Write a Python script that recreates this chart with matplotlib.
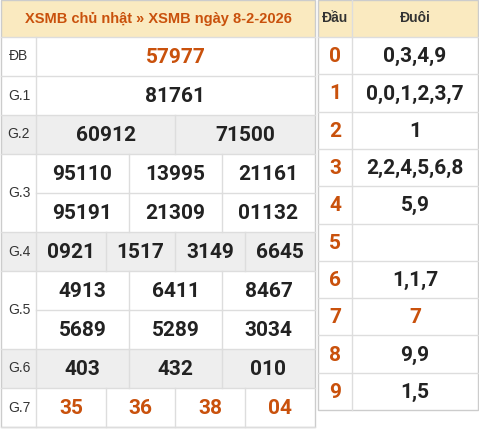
import matplotlib
matplotlib.use("Agg")
import matplotlib.pyplot as plt
from matplotlib.patches import Rectangle

plt.rcParams['font.family'] = ['Roboto', 'Liberation Sans', 'DejaVu Sans']

title = "XSMB chủ nhật » XSMB ngày 8-2-2026"
prize_labels = ["ĐB", "G.1", "G.2", "G.3", "G.4", "G.5", "G.6", "G.7"]
prize_numbers = [
    [["57977"]],
    [["81761"]],
    [["60912", "71500"]],
    [["95110", "13995", "21161"], ["95191", "21309", "01132"]],
    [["0921", "1517", "3149", "6645"]],
    [["4913", "6411", "8467"], ["5689", "5289", "3034"]],
    [["403", "432", "010"]],
    [["35", "36", "38", "04"]],
]
dau = ["0", "1", "2", "3", "4", "5", "6", "7", "8", "9"]
duoi = ["0,3,4,9", "0,0,1,2,3,7", "1", "2,2,4,5,6,8", "5,9", "", "1,1,7", "7", "9,9", "1,5"]
duoi_orange = [False] * 10
duoi_orange[7] = True

orange = "#c9510c"
dark = "#222222"
grid = "#dddddd"
head_bg = "#faeac0"
gray_bg = "#eeeeee"

fig = plt.figure(figsize=(4.79, 4.33), dpi=100)
ax = fig.add_axes([0, 0, 1, 1])
ax.set_xlim(0, 479)
ax.set_ylim(433, 0)
ax.axis("off")

# left table
L0, L1, LC = 1, 315, 36
hh = 37
rh = 39
ax.add_patch(Rectangle((L0, 0), L1 - L0, hh, fc=head_bg, ec="none"))
ax.text((L0 + L1) / 2, hh / 2, title, ha="center", va="center", fontsize=10.5,
        fontweight="bold", color=orange, family=['Liberation Sans', 'DejaVu Sans'])
y = hh
for i, (lab, rows) in enumerate(zip(prize_labels, prize_numbers)):
    h = rh * len(rows)
    if lab in ("G.2", "G.4", "G.6"):
        ax.add_patch(Rectangle((L0, y), L1 - L0, h, fc=gray_bg, ec="none"))
    ax.text(LC / 2 + 1, y + h / 2, lab, ha="center", va="center", fontsize=10,
            color="#333333", family=['Liberation Sans', 'DejaVu Sans'])
    ax.plot([L0, L1], [y, y], color=grid, lw=1)
    for j, row in enumerate(rows):
        yy = y + rh * j
        if j > 0:
            ax.plot([LC, L1], [yy, yy], color=grid, lw=1)
        w = (L1 - LC) / len(row)
        for k, num in enumerate(row):
            if k > 0:
                ax.plot([LC + w * k] * 2, [yy, yy + rh], color=grid, lw=1)
            col = orange if lab in ("ĐB", "G.7") else dark
            ax.text(LC + w * (k + 0.5), yy + rh / 2 + 1, num, ha="center", va="center",
                    fontsize=15, fontweight="bold", color=col)
    y += h
ax.plot([LC, LC], [hh, y], color=grid, lw=1)
ax.plot([L0, L1], [y, y], color=grid, lw=1)
ax.add_patch(Rectangle((L0, 0), L1 - L0, y, fc="none", ec="#cccccc", lw=1))

# right table
X0, XD, X1 = 318, 352, 478
rr = 37.3
ax.add_patch(Rectangle((X0, 0), X1 - X0, hh, fc=head_bg, ec="none"))
ax.text((X0 + XD) / 2, hh / 2, "Đầu", ha="center", va="center", fontsize=10,
        fontweight="bold", color="#333333", family=['Liberation Sans', 'DejaVu Sans'])
ax.text((XD + X1) / 2, hh / 2, "Đuôi", ha="center", va="center", fontsize=10,
        fontweight="bold", color="#333333", family=['Liberation Sans', 'DejaVu Sans'])
for i, (d, t) in enumerate(zip(dau, duoi)):
    yy = hh + rr * i
    ax.plot([X0, X1], [yy, yy], color=grid, lw=1)
    ax.text((X0 + XD) / 2, yy + rr / 2 + 1, d, ha="center", va="center", fontsize=15,
            fontweight="bold", color=orange)
    ax.text((XD + X1) / 2, yy + rr / 2 + 1, t, ha="center", va="center", fontsize=15,
            fontweight="bold", color=orange if duoi_orange[i] else dark)
yb = hh + rr * len(dau)
ax.plot([XD, XD], [0, yb], color=grid, lw=1)
ax.add_patch(Rectangle((X0, 0), X1 - X0, yb, fc="none", ec="#cccccc", lw=1))

fig.savefig("out.png", dpi=100)
